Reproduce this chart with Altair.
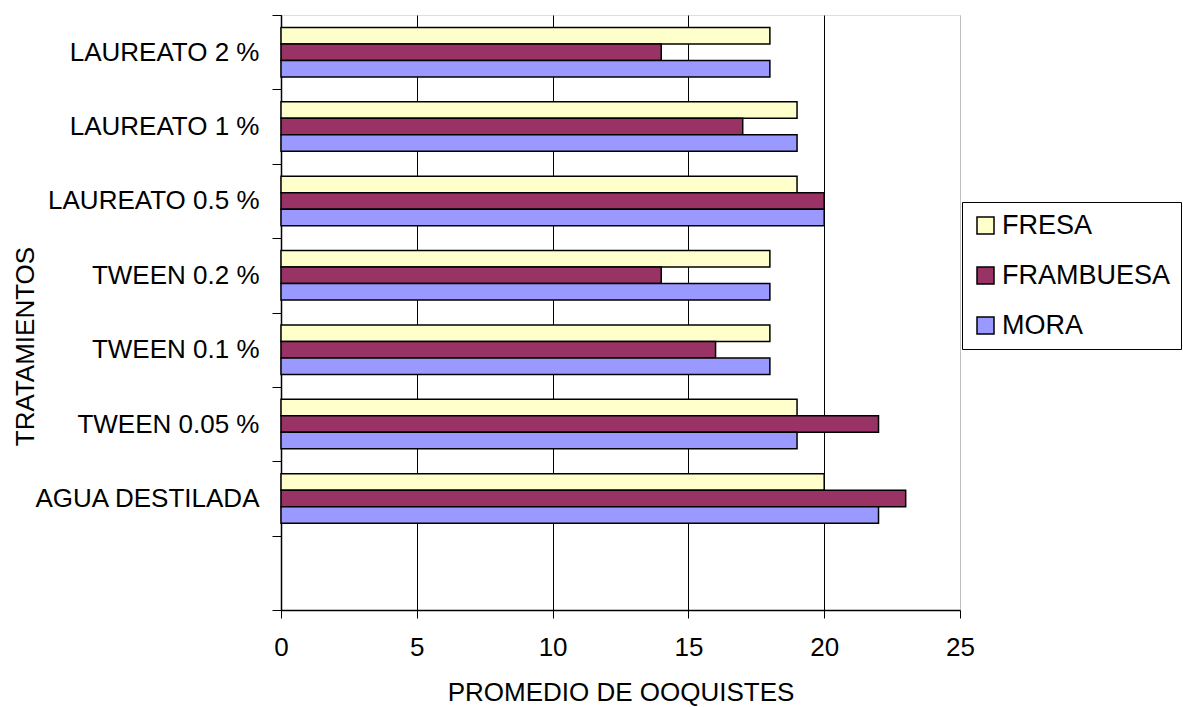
import altair as alt
import pandas as pd

categories = ["LAUREATO 2 %", "LAUREATO 1 %", "LAUREATO 0.5 %", "TWEEN 0.2 %",
              "TWEEN 0.1 %", "TWEEN 0.05 %", "AGUA DESTILADA"]
series = ["FRESA", "FRAMBUESA", "MORA"]
fresa = [18, 19, 19, 18, 18, 19, 20]
frambuesa = [14, 17, 20, 14, 16, 22, 23]
mora = [18, 19, 20, 18, 18, 19, 22]
colors = ["#FFFFCC", "#993366", "#9999FF"]
x_ticks = [0, 5, 10, 15, 20, 25]

rows = []
for name, vals in zip(series, [fresa, frambuesa, mora]):
    for c, v in zip(categories, vals):
        rows.append({"tratamiento": c, "serie": name, "valor": v})
df = pd.DataFrame(rows)

FONT = "Liberation Sans"
FS = 26

chart = alt.Chart(df).mark_bar(stroke="black", strokeWidth=1.5).encode(
    x=alt.X("valor:Q",
            scale=alt.Scale(domain=[0, 25], nice=False, zero=True),
            axis=alt.Axis(values=x_ticks, tickSize=8, tickColor="black", tickWidth=1,
                          domainColor="black", domainWidth=1.5,
                          grid=True,
                          gridColor={"condition": {"test": "datum.value === 25", "value": "#c0c0c0"},
                                     "value": "black"},
                          gridWidth=1, labelFlush=False,
                          labelFontSize=FS, labelFont=FONT, labelColor="black", labelPadding=16,
                          title="PROMEDIO DE OOQUISTES", titleFontSize=FS, titleFont=FONT,
                          titleFontWeight="normal", titleColor="black",
                          titleBaseline="middle", titleY=82)),
    y=alt.Y("tratamiento:N",
            scale=alt.Scale(domain=categories + [" "], paddingInner=0, paddingOuter=0),
            axis=alt.Axis(tickBand="extent", tickSize=9, tickColor="black", tickWidth=1,
                          domainColor="black", domainWidth=1.5, grid=False,
                          labelFontSize=FS, labelFont=FONT, labelColor="black",
                          labelPadding=13, labelLimit=400,
                          title="TRATAMIENTOS", titleFontSize=FS, titleFont=FONT,
                          titleFontWeight="normal", titleColor="black",
                          titleAngle=270, titleBaseline="middle", titleAlign="center",
                          titleX=-256, titleY=331)),
    yOffset=alt.YOffset("serie:N", sort=series,
                        scale=alt.Scale(domain=series, paddingInner=0, paddingOuter=0.75)),
    color=alt.Color("serie:N",
                    scale=alt.Scale(domain=series, range=colors),
                    legend=alt.Legend(orient="none", legendX=681, legendY=187, title=None,
                                      labelFontSize=27, labelFont=FONT, labelColor="black",
                                      labelLimit=300, symbolType="square", symbolSize=289,
                                      symbolStrokeColor="black", symbolStrokeWidth=1.5,
                                      symbolOpacity=1, padding=10, rowPadding=22,
                                      labelOffset=3, strokeColor="black", fillColor="white")),
).properties(
    width=679,
    height=595,
    autosize=alt.AutoSizeParams(type="none"),
    padding={"left": 281, "top": 15, "right": 223, "bottom": 97},
).configure_view(
    stroke="#c0c0c0", strokeWidth=1.5
).configure(
    background="white"
)

chart.save("out.html", embed_options={"renderer": "svg", "actions": False})
